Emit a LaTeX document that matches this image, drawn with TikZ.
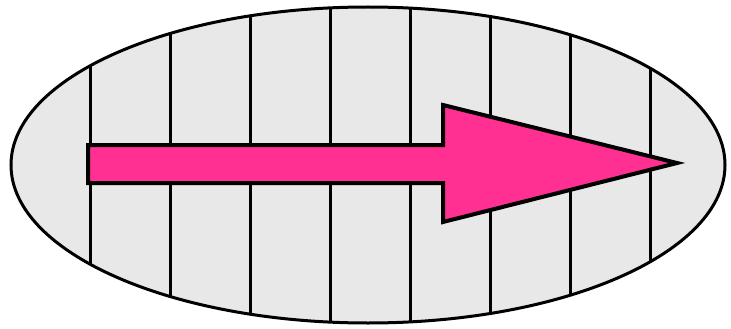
\documentclass[tikz,border=0pt]{standalone}
\definecolor{platefill}{RGB}{232,232,232}
\definecolor{arrowpink}{RGB}{255,48,145}
\begin{document}
\begin{tikzpicture}[x=1pt,y=-1pt,
  plate/.style={draw,line width=3pt,fill=platefill},
  stripe/.style={draw,line width=3pt},
  bigarrow/.style={draw,line width=4pt,fill=arrowpink,line join=miter}]
\useasboundingbox (0,0) rectangle (731,329);
\coordinate (centre) at (368,165);
\fill[platefill] (centre) ellipse [x radius=357,y radius=158];
\begin{scope}
  \clip (centre) ellipse [x radius=357,y radius=158];
  \foreach \x in {90,170,...,650}
    \draw[stripe] (\x,0) -- (\x,329);
\end{scope}
\draw[plate,fill=none] (centre) ellipse [x radius=357,y radius=158];
\draw[bigarrow] (88,145) -- (443,145) -- (443,105) -- (677,163)
  -- (443,222) -- (443,183) -- (88,183) -- cycle;
\end{tikzpicture}
\end{document}
